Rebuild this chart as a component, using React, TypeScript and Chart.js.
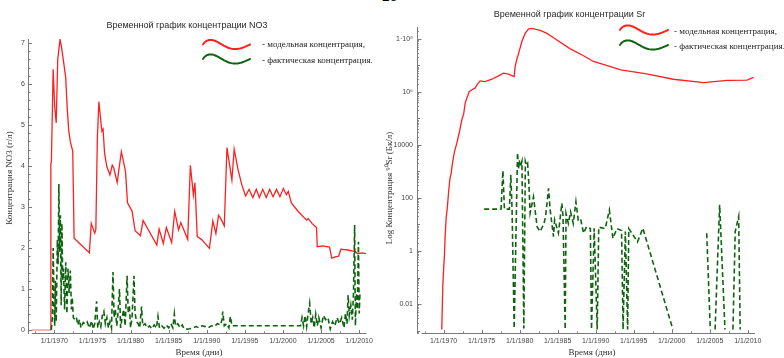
import React, { useEffect, useRef } from 'react';
import { Chart, registerables } from 'chart.js';

Chart.register(...registerables);

// ---------- data ----------
const xTickYears = [1970, 1975, 1980, 1985, 1990, 1995, 2000, 2005, 2010];
const no3TickValues = [0, 1, 2, 3, 4, 5, 6, 7];
const srTickValues = [0.01, 1, 100, 10000, 1e6, 1e8];
const srTickLabels = ['0.01', '1', '100', '10000', '10⁶', '1·10⁸'];

// NO3, model concentration before the source (pale part)
const no3ModelLead: [number, number][] = [[1967.05, 0], [1969.5, 0]];
// NO3, model concentration (g/l)
const no3Model: [number, number][] = [
  [1969.5, 0], [1969.55, 4.07], [1969.62, 4.1], [1969.85, 6.36], [1970.05, 5.45], [1970.25, 5.05],
  [1970.45, 6.6], [1970.75, 7.09], [1970.95, 6.9], [1971.25, 6.5], [1971.5, 6.15], [1971.7, 5.4],
  [1971.9, 4.85], [1972.1, 4.6], [1972.3, 4.45], [1972.42, 4.35], [1972.6, 2.24], [1973.6, 2.06],
  [1974.6, 1.88], [1974.85, 2.6], [1975.3, 2.36], [1975.45, 2.45], [1975.65, 4.7], [1975.85, 5.57],
  [1976.1, 5.1], [1976.25, 4.85], [1976.4, 4.9], [1976.6, 4.3], [1976.9, 3.98], [1977.3, 3.78],
  [1977.6, 4.02], [1977.8, 3.95], [1978.25, 3.6], [1978.5, 3.95], [1978.8, 4.35], [1979.2, 4.0],
  [1979.35, 3.85], [1979.6, 3.1], [1980.2, 2.9], [1980.6, 2.42], [1981.3, 2.3], [1981.65, 2.67],
  [1983.45, 2.07], [1983.75, 2.46], [1984.3, 2.11], [1984.7, 2.5], [1985.4, 2.13], [1985.8, 2.89],
  [1986.3, 2.44], [1986.6, 2.62], [1987.5, 2.21], [1987.85, 4.02], [1988.25, 3.29], [1988.45, 3.59],
  [1988.75, 2.28], [1989.3, 2.21], [1990.35, 1.99], [1990.8, 2.66], [1991.2, 2.35], [1991.55, 2.8],
  [1991.8, 2.73], [1992.3, 2.54], [1992.65, 4.45], [1993.3, 3.66], [1993.6, 4.41], [1994.1, 3.92],
  [1994.6, 3.54], [1995.1, 3.27], [1995.55, 3.43], [1996.05, 3.23], [1996.5, 3.43], [1996.9, 3.23],
  [1997.35, 3.43], [1997.8, 3.23], [1998.25, 3.43], [1998.7, 3.25], [1999.15, 3.43], [1999.6, 3.25],
  [2000.05, 3.45], [2000.45, 3.3], [2000.7, 3.38], [2001.1, 3.1], [2002.0, 2.89], [2003.1, 2.68],
  [2003.3, 2.72], [2003.8, 2.6], [2004.4, 2.5], [2004.5, 2.03], [2005.2, 2.05], [2006.1, 2.02],
  [2006.4, 1.75], [2006.85, 1.78], [2007.3, 1.8], [2007.6, 1.97], [2008.5, 1.95], [2009.5, 1.91],
  [2009.8, 1.86], [2010.4, 1.88], [2010.9, 1.86],
];
// NO3, measured concentration (g/l)
const no3Measured: [number, number][] = [
  [1969.6, 0], [1969.75, 0.3], [1969.85, 2.0], [1969.95, 0.8], [1970.05, 0.1], [1970.15, 1.2],
  [1970.25, 0.2], [1970.4, 2.2], [1970.5, 1.6], [1970.6, 3.56], [1970.7, 1.9], [1970.8, 2.8],
  [1970.9, 0.6], [1971.0, 2.6], [1971.1, 1.2], [1971.2, 1.5], [1971.35, 0.5], [1971.5, 1.65],
  [1971.65, 0.4], [1971.8, 1.5], [1971.95, 0.9], [1972.1, 1.45], [1972.25, 0.5], [1972.35, 0.8],
  [1972.5, 0.3], [1972.7, 0.25], [1972.9, 0.3], [1973.1, 0.12], [1973.3, 0.25], [1973.5, 0.05],
  [1973.8, 0.18], [1974.0, 0.15], [1974.3, 0.2], [1974.6, 0.05], [1974.9, 0.22], [1975.1, 0.02],
  [1975.3, 0.15], [1975.55, 0.7], [1975.7, 0.05], [1975.9, 0.2], [1976.1, 0.08], [1976.3, 0.35],
  [1976.5, 0.45], [1976.7, 0.15], [1976.9, 0.3], [1977.1, 0.05], [1977.3, 0.2], [1977.5, 0.05],
  [1977.7, 1.41], [1977.85, 0.3], [1978.0, 0.5], [1978.2, 0.1], [1978.35, 0.4], [1978.55, 1.0],
  [1978.7, 0.05], [1978.9, 0.3], [1979.1, 0.5], [1979.3, 0.1], [1979.55, 1.32], [1979.7, 0.4],
  [1979.85, 0.6], [1980.0, 0.05], [1980.2, 0.3], [1980.45, 1.32], [1980.6, 0.4], [1980.8, 0.2],
  [1981.0, 0.15], [1981.2, 0.05], [1981.45, 0.57], [1981.6, 0.1], [1981.9, 0.15], [1982.2, 0.05],
  [1982.5, 0.1], [1982.8, 0.03], [1983.1, 0.12], [1983.4, 0.05], [1983.6, 0.33], [1983.8, 0.05],
  [1984.1, 0.1], [1984.4, 0.04], [1984.7, 0.12], [1985.0, 0.05], [1985.3, 0.15], [1985.55, 0.05],
  [1985.75, 0.39], [1985.9, 0.1], [1986.2, 0.15], [1986.5, 0.05], [1986.8, 0.12], [1987.0, 0.03],
  [1987.4, 0.02], [1987.8, 0.03], [1988.2, 0.05], [1988.6, 0.08], [1989.0, 0.05], [1989.4, 0.1],
  [1989.8, 0.08], [1990.2, 0.05], [1990.6, 0.1], [1991.0, 0.08], [1991.4, 0.15], [1991.8, 0.12],
  [1992.0, 0.25], [1992.1, 0.45], [1992.3, 0.1], [1992.6, 0.15], [1992.9, 0.05], [1993.1, 0.33],
  [1993.3, 0.1], [1993.6, 0.1], [2002.3, 0.1], [2002.5, 0.3], [2002.7, 0.1], [2002.9, 0.35],
  [2003.1, 0.08], [2003.3, 0.4], [2003.5, 0.65], [2003.7, 0.15], [2003.9, 0.3], [2004.1, 0.05],
  [2004.3, 0.38], [2004.5, 0.1], [2004.7, 0.3], [2005.0, 0.05], [2005.3, 0.35], [2005.6, 0.25],
  [2005.9, 0.3], [2006.2, 0.02], [2006.5, 0.2], [2006.8, 0.1], [2007.1, 0.3], [2007.4, 0.15],
  [2007.7, 0.3], [2008.0, 0.05], [2008.2, 0.4], [2008.4, 0.15], [2008.55, 0.85], [2008.7, 0.35],
  [2008.9, 0.6], [2009.1, 0.25], [2009.25, 0.9], [2009.4, 2.56], [2009.5, 0.1], [2009.65, 0.9],
  [2009.75, 0.5], [2009.9, 2.15], [2010.0, 0.4], [2010.1, 0.9],
];

// Sr-90, model concentration (Bq/l)
const srModel: [number, number][] = [
  [1969.76, 1.1e-3], [1969.89, 0.045], [1970.02, 0.26], [1970.11, 0.71], [1970.2, 3.5], [1970.33, 17],
  [1970.5, 47], [1970.64, 150], [1970.81, 480], [1970.99, 850], [1971.16, 2000], [1971.43, 5600],
  [1971.73, 11500], [1972.04, 27500], [1972.39, 87000], [1972.65, 155000], [1972.83, 370000],
  [1973.05, 575000], [1973.36, 1.02e6], [1973.71, 1.2e6], [1974.14, 1.38e6], [1974.36, 1.8e6],
  [1974.8, 2.6e6], [1975.46, 2.45e6], [1976.34, 3.0e6], [1977.21, 4.0e6], [1977.87, 5.1e6],
  [1978.53, 4.7e6], [1979.28, 3.8e6], [1979.41, 9.1e6], [1979.63, 1.7e7], [1979.93, 3.3e7],
  [1980.29, 7.9e7], [1980.72, 1.6e8], [1981.16, 2.35e8], [1981.6, 2.5e8], [1982.7, 2.1e8],
  [1983.6, 1.6e8], [1984.45, 1.1e8], [1986.6, 4.3e7], [1988.4, 2.3e7], [1989.7, 1.4e7],
  [1991.0, 1.1e7], [1993.3, 6.8e6], [1996.7, 4.8e6], [2000.2, 3.0e6], [2004.2, 2.24e6],
  [2007.3, 2.7e6], [2009.9, 2.8e6], [2010.76, 3.5e6],
];
// Sr-90, measured concentration (Bq/l); null = no data
const srMeasured: [number, number | null][] = [
  [1975.33, 38], [1977.55, 38], [1977.8, 1070], [1978.0, 38], [1978.65, 38], [1978.84, 740],
  [1979.0, 40], [1979.28, 1.2e-3], [1979.72, 5100], [1979.85, 1200], [1979.95, 2600], [1980.1, 1500],
  [1980.3, 2400], [1980.55, 1.2e-3], [1980.75, 2400], [1980.9, 1700], [1981.05, 2000], [1981.2, 400],
  [1981.38, 27], [1981.82, 110], [1982.3, 8], [1982.7, 5.4], [1983.2, 11], [1983.4, 19],
  [1983.8, 230], [1984.0, 38], [1984.45, 3.5], [1984.6, 15], [1985.1, 4.7], [1985.55, 63],
  [1985.7, 20], [1985.99, 1.1e-3], [1986.1, 26], [1986.4, 11], [1986.7, 30], [1987.05, 11],
  [1987.4, 72], [1987.7, 15], [1988.0, 17], [1988.4, 4.7], [1988.8, 8.3], [1989.3, 7],
  [1989.45, 1.1e-3], [1989.8, 7.2], [1990.2, 1.1e-3], [1990.4, 7.9], [1991.25, 7], [1991.8, 35],
  [1992.26, 3], [1992.8, 7], [1993.4, 5.9], [1993.6, 1.1e-3], [1993.9, 5.4], [1994.2, 1.1e-3],
  [1994.35, 7], [1995.5, 2.2], [1996.2, 7.2], [2000.15, 1.1e-3], [2002.0, null], [2004.6, 4.7],
  [2005.07, 1.1e-3], [2005.4, null], [2005.7, 1.1e-3], [2006.3, 55], [2007.0, 1.1e-3],
  [2007.5, null], [2008.05, 1.1e-3], [2008.35, 5.4], [2008.8, 20], [2009.0, 1.1e-3],
];

const legendModel = '- модельная концентрация,';
const legendMeasured = '- фактическая концентрация.';

// ---------- colours / fonts ----------
const RED = '#ff1f1f';
const PINK = '#ffb4b4';
const GREEN = '#0e640e';
const AXIS = '#7a7a7a';
const SANS = '"Liberation Sans", Arial, sans-serif';
const SERIF = '"Liberation Serif", "Times New Roman", serif';

type Row = { label: string; color: string; waveY: number; textY: number };
type Decor = {
  title: string; titleX: number; titleY: number;
  xTitle: string; xTitleX: number; xTitleY: number;
  yTitle: string; yTitleX: number; yTitleY: number;
  waveX0: number; waveX1: number; textX: number; rows: Row[];
  xAxisStart: number; log: boolean;
};

function drawWave(ctx: CanvasRenderingContext2D, x0: number, x1: number, yc: number, color: string) {
  ctx.beginPath();
  const n = 40;
  for (let i = 0; i <= n; i++) {
    const t = i / n;
    const p = Math.pow(t, 0.76);
    const x = x0 + (x1 - x0) * t;
    const y = yc - 4.6 * Math.sin(2 * Math.PI * p);
    if (i === 0) ctx.moveTo(x, y); else ctx.lineTo(x, y);
  }
  ctx.strokeStyle = color;
  ctx.lineWidth = 2;
  ctx.lineCap = 'round';
  ctx.stroke();
}

function decorPlugin(d: Decor) {
  return {
    id: 'decor',
    afterDraw(chart: any) {
      const ctx: CanvasRenderingContext2D = chart.ctx;
      const { left, right, top, bottom } = chart.chartArea;
      const xs = chart.scales.x;
      const ys = chart.scales.y;
      ctx.save();
      // axes lines
      ctx.strokeStyle = AXIS;
      ctx.lineWidth = 1;
      ctx.beginPath();
      ctx.moveTo(left + 0.5, top);
      ctx.lineTo(left + 0.5, bottom);
      ctx.moveTo(xs.getPixelForValue(d.xAxisStart), bottom - 0.5);
      ctx.lineTo(right, bottom - 0.5);
      ctx.stroke();
      // x ticks (inward)
      ctx.beginPath();
      for (let yr = 1967.5; yr <= 2010.5; yr += 2.5) {
        const px = Math.round(xs.getPixelForValue(yr)) + 0.5;
        const major = Math.abs(yr % 5) < 1e-6;
        ctx.moveTo(px, bottom);
        ctx.lineTo(px, bottom - (major ? 4 : 2.5));
      }
      // y ticks (inward)
      if (!d.log) {
        for (let i = 0; i <= 35; i++) {
          const v = i / 5;
          const py = Math.round(ys.getPixelForValue(v)) + 0.5;
          const major = i % 5 === 0;
          ctx.moveTo(left, py);
          ctx.lineTo(left + (major ? 4 : 2.5), py);
        }
      } else {
        for (let e = -4; e <= 8; e++) {
          for (let k = 1; k <= 9; k++) {
            const v = k * Math.pow(10, e);
            if (v < ys.min || v > ys.max) continue;
            const py = Math.round(ys.getPixelForValue(v)) + 0.5;
            const len = k === 1 ? (e % 2 === 0 ? 4.5 : 3) : 1.8;
            ctx.moveTo(left, py);
            ctx.lineTo(left + len, py);
          }
        }
      }
      ctx.stroke();
      // title
      ctx.fillStyle = '#2a2a2a';
      ctx.font = `9px ${SANS}`;
      ctx.textAlign = 'center';
      ctx.textBaseline = 'middle';
      ctx.fillText(d.title, d.titleX, d.titleY);
      // axis titles
      ctx.font = `9px ${SERIF}`;
      ctx.fillStyle = '#333';
      ctx.fillText(d.xTitle, d.xTitleX, d.xTitleY);
      ctx.save();
      ctx.translate(d.yTitleX, d.yTitleY);
      ctx.rotate(-Math.PI / 2);
      ctx.fillText(d.yTitle, 0, 0);
      ctx.restore();
      // legend
      ctx.textAlign = 'left';
      ctx.font = `9px ${SERIF}`;
      for (const r of d.rows) {
        drawWave(ctx, d.waveX0, d.waveX1, r.waveY, r.color);
        ctx.fillStyle = '#222';
        ctx.fillText(r.label, d.textX, r.textY);
      }
      ctx.restore();
    },
  };
}

const pts = (a: [number, number | null][]) => a.map(([x, y]) => ({ x, y }));

function xScale(min: number, max: number) {
  return {
    type: 'linear',
    min,
    max,
    grid: { display: false, drawTicks: false },
    border: { display: false },
    afterBuildTicks: (s: any) => { s.ticks = xTickYears.map((v) => ({ value: v })); },
    afterFit: (s: any) => { s.height = 24; },
    ticks: {
      autoSkip: false,
      maxRotation: 0,
      padding: 3,
      color: '#444',
      font: { family: SANS, size: 7 },
      callback: (v: any) => '1/1/' + v,
    },
  };
}

function NO3Chart() {
  const ref = useRef<HTMLCanvasElement>(null);
  useEffect(() => {
    const chart = new Chart(ref.current as HTMLCanvasElement, {
      type: 'line',
      data: {
        datasets: [
          { data: pts(no3Measured), borderColor: GREEN, borderWidth: 1.6, borderDash: [5, 3] },
          { data: pts(no3Model), borderColor: RED, borderWidth: 1.3 },
          { data: pts(no3ModelLead), borderColor: PINK, borderWidth: 2 },
        ] as any,
      },
      options: {
        animation: false,
        responsive: false,
        maintainAspectRatio: false,
        parsing: true,
        layout: { padding: { top: 39, right: 8, left: 0, bottom: 0 } },
        elements: { point: { radius: 0 }, line: { tension: 0 } },
        plugins: { legend: { display: false }, title: { display: false }, tooltip: { enabled: false } },
        scales: {
          x: xScale(1966.55, 2010.95) as any,
          y: {
            type: 'linear',
            min: -0.1,
            max: 7.1,
            grid: { display: false, drawTicks: false },
            border: { display: false },
            afterBuildTicks: (s: any) => { s.ticks = no3TickValues.map((v) => ({ value: v })); },
            afterFit: (s: any) => { s.width = 28; },
            ticks: { padding: 3, color: '#444', font: { family: SANS, size: 7 } },
          },
        },
      },
      plugins: [
        decorPlugin({
          title: 'Временной график концентрации NO3', titleX: 187, titleY: 25.5,
          xTitle: 'Время (дни)', xTitleX: 199, xTitleY: 353,
          yTitle: 'Концентрация NO3 (г/л)', yTitleX: 10, yTitleY: 178,
          waveX0: 203, waveX1: 250, textX: 262,
          rows: [
            { label: legendModel, color: RED, waveY: 44.5, textY: 45 },
            { label: legendMeasured, color: GREEN, waveY: 59, textY: 61 },
          ],
          xAxisStart: 1967.05, log: false,
        }),
      ],
    } as any);
    return () => chart.destroy();
  }, []);
  return <canvas ref={ref} width={376} height={358} style={{ position: 'absolute', left: 0, top: 0 }} />;
}

function SrChart() {
  const ref = useRef<HTMLCanvasElement>(null);
  useEffect(() => {
    const chart = new Chart(ref.current as HTMLCanvasElement, {
      type: 'line',
      data: {
        datasets: [
          { data: pts(srMeasured), borderColor: GREEN, borderWidth: 1.6, borderDash: [5, 3], spanGaps: false },
          { data: pts(srModel), borderColor: RED, borderWidth: 1.3 },
        ] as any,
      },
      options: {
        animation: false,
        responsive: false,
        maintainAspectRatio: false,
        layout: { padding: { top: 27, right: 29, left: 0, bottom: 0 } },
        elements: { point: { radius: 0 }, line: { tension: 0 } },
        plugins: { legend: { display: false }, title: { display: false }, tooltip: { enabled: false } },
        scales: {
          x: xScale(1966.5, 2010.95) as any,
          y: {
            type: 'logarithmic',
            min: 7.4e-4,
            max: 2.8e8,
            grid: { display: false, drawTicks: false },
            border: { display: false },
            afterBuildTicks: (s: any) => { s.ticks = srTickValues.map((v) => ({ value: v })); },
            afterFit: (s: any) => { s.width = 41; },
            ticks: {
              padding: 4,
              color: '#444',
              font: { family: SANS, size: 7 },
              callback: (v: any) => {
                const i = srTickValues.findIndex((t) => Math.abs(t - v) / t < 1e-6);
                return i >= 0 ? srTickLabels[i] : '';
              },
            },
          },
        },
      },
      plugins: [
        decorPlugin({
          title: 'Временной график концентрации Sr', titleX: 193.5, titleY: 14.5,
          xTitle: 'Время (дни)', xTitleX: 216, xTitleY: 353,
          yTitle: 'Log Концентрация ⁹⁰Sr (Бк/л)', yTitleX: 14, yTitleY: 188,
          waveX0: 244, waveX1: 292, textX: 298,
          rows: [
            { label: legendModel, color: RED, waveY: 30, textY: 32 },
            { label: legendMeasured, color: GREEN, waveY: 45, textY: 47 },
          ],
          xAxisStart: 1967.1, log: true,
        }),
      ],
    } as any);
    return () => chart.destroy();
  }, []);
  return <canvas ref={ref} width={408} height={358} style={{ position: 'absolute', left: 376, top: 0 }} />;
}

export default function App() {
  return (
    <div style={{ position: 'fixed', left: 0, top: 0, width: 784, height: 358, background: '#fff', overflow: 'hidden' }}>
      <div style={{ position: 'absolute', left: 382, top: -12, font: `bold 15px ${SERIF}`, color: '#000' }}>26</div>
      <NO3Chart />
      <SrChart />
    </div>
  );
}
